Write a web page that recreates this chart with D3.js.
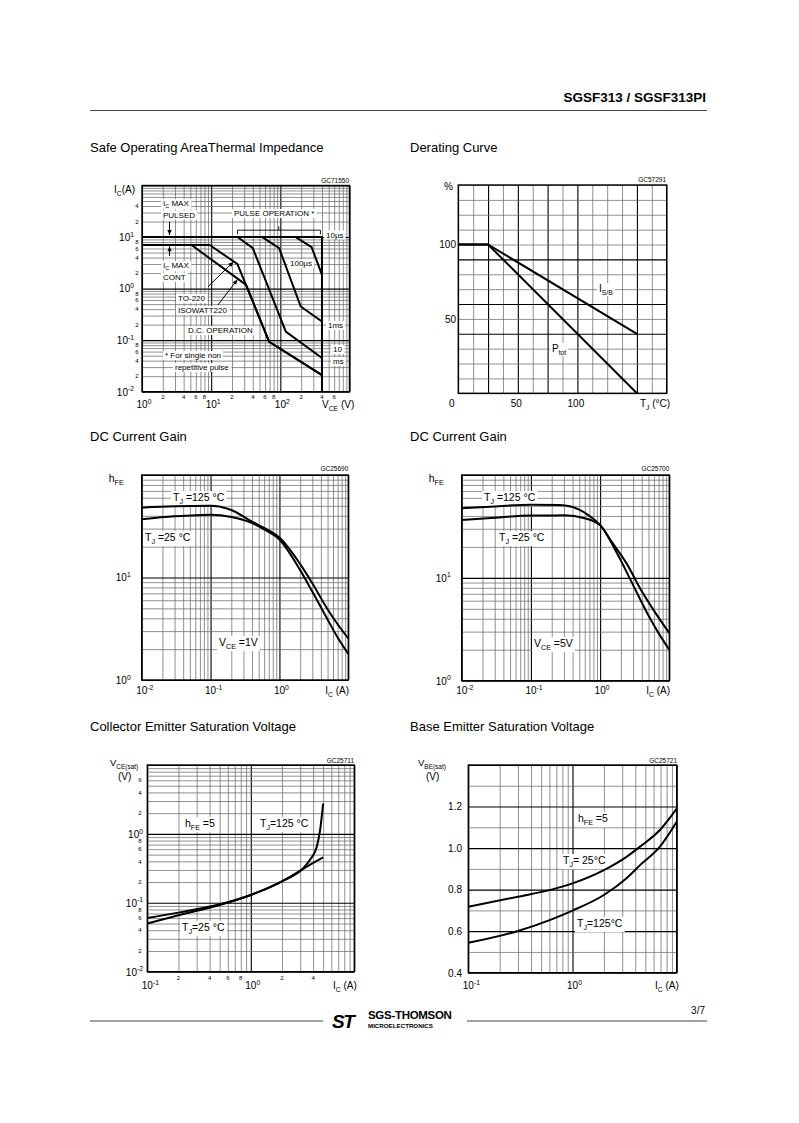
<!DOCTYPE html>
<html>
<head>
<meta charset="utf-8">
<script src="https://d3js.org/d3.v7.min.js"></script>
<style>
  body { margin: 0; background: #fff; }
  svg text { font-family: "Liberation Sans", Arial, sans-serif; fill: #000; }
</style>
</head>
<body>
<svg id="page" width="799" height="1123"></svg>
<script>
// ---------- data ----------
// Safe operating area: [VCE (V), IC (A)]
const soa10us  = [[1, 10], [400, 10], [400, 0.01]];
const soa100us = [[167, 10], [283, 6.4], [400, 1.85]];
const soa1ms   = [[55, 10], [96, 6.1], [197, 0.45], [400, 0.23]];
const soa10ms  = [[24, 10], [40, 6.1], [120, 0.146], [400, 0.045]];
const soaTO220 = [[1, 7], [9.5, 7], [24, 3.0], [69, 0.093], [400, 0.021]];
const soaIso   = [[1, 7], [5.2, 7], [32, 1.18], [69, 0.093], [400, 0.021]];

// Derating curve: Tj (°C) vs %
const derTemp = [0, 25, 150];
const derIsb  = [100, 100, 40];
const derPtot = [100, 100, 0];

// DC current gain, VCE = 1V : [IC (A), hFE]
const gain1v125 = [[0.01, 48], [0.03, 49.5], [0.1, 50], [0.2, 45.5], [0.4, 35], [0.6, 30.5], [1, 24.5], [2, 13.5], [3, 8.8], [5, 4.9], [7, 3.5], [10, 2.55]];
const gain1v25  = [[0.01, 37], [0.03, 39.5], [0.1, 41], [0.2, 39], [0.4, 34], [0.6, 29.5], [1, 23.5], [2, 11.8], [3, 7.3], [5, 3.9], [7, 2.6], [10, 1.8]];

// DC current gain, VCE = 5V
const gain5v125 = [[0.01, 47.5], [0.03, 49.5], [0.1, 51.5], [0.26, 51], [0.5, 46], [0.7, 40], [1, 32.7], [1.5, 22], [2.4, 13.9], [4, 7.4], [6, 4.8], [10, 2.9]];
const gain5v25  = [[0.01, 36.6], [0.03, 38.5], [0.1, 40.3], [0.3, 40.5], [0.6, 38], [1, 32.5], [1.74, 17.5], [3, 8.5], [5, 4.3], [7, 2.9], [10, 2.0]];

// Collector emitter saturation voltage, hFE = 5 : [IC (A), VCE(sat) (V)]
const vce125 = [[0.1, 0.05], [0.2, 0.066], [0.5, 0.093], [1, 0.13], [2, 0.205], [3.2, 0.316], [3.73, 0.42], [4.34, 0.65], [4.67, 1.13], [5.0, 2.76]];
const vce25  = [[0.1, 0.06], [0.2, 0.072], [0.5, 0.095], [1, 0.13], [2, 0.205], [3.2, 0.31], [4, 0.38], [5.0, 0.457]];

// Base emitter saturation voltage, hFE = 5 : [IC (A), VBE(sat) (V)]
const vbe25  = [[0.1, 0.718], [0.3, 0.766], [0.63, 0.8], [1, 0.83], [2, 0.894], [3.3, 0.958], [4.45, 1.007], [6.9, 1.087], [10, 1.19]];
const vbe125 = [[0.1, 0.544], [0.3, 0.601], [0.63, 0.657], [1, 0.699], [2, 0.774], [3.3, 0.855], [4.45, 0.918], [6.9, 1.007], [10, 1.127]];

// tick labels
const soaXDecades = [[1, "10^{0}"], [10, "10^{1}"], [100, "10^{2}"]];
const soaXMinor   = [2, 4, 6, 8, 20, 40, 60, 80, 200, 400, 600];
const soaYDecades = [[0.01, "10^{-2}"], [0.1, "10^{-1}"], [1, "10^{0}"], [10, "10^{1}"]];
const soaYMinor   = [0.02, 0.04, 0.06, 0.08, 0.2, 0.4, 0.6, 0.8, 2, 4, 6, 8, 20, 40];
const derXTicks   = [0, 50, 100];
const derYTicks   = [50, 100];
const gainXDecades = [[0.01, "10^{-2}"], [0.1, "10^{-1}"], [1, "10^{0}"]];
const gainYDecades = [[1, "10^{0}"], [10, "10^{1}"]];
const satXDecades = [[0.1, "10^{-1}"], [1, "10^{0}"]];
const vceXMinor   = [0.2, 0.4, 0.6, 0.8, 2, 4];
const vceYDecades = [[0.01, "10^{-2}"], [0.1, "10^{-1}"], [1, "10^{0}"]];
const vceYMinor   = [0.02, 0.04, 0.06, 0.08, 0.2, 0.4, 0.6, 0.8, 2, 4, 6];
const vbeYTicks   = [0.4, 0.6, 0.8, 1.0, 1.2];

// ---------- helpers ----------
const page = d3.select('#page');

function rich(t, str, size) {
  const re = /([_^])\{([^}]*)\}|([^_^]+)/g;
  let m, cur = 0;
  while ((m = re.exec(str))) {
    if (m[3] !== undefined) {
      t.append('tspan').attr('dy', -cur).text(m[3]);
      cur = 0;
    } else {
      const off = m[1] === '_' ? size * 0.3 : -size * 0.42;
      t.append('tspan').attr('dy', off - cur).attr('font-size', size * 0.68).text(m[2]);
      cur = off;
    }
  }
}

function tag(g, x, y, str, o = {}) {
  const size = o.size || 10;
  const t = g.append('text').attr('x', x).attr('y', y)
    .attr('font-size', size).attr('text-anchor', o.anchor || 'start');
  if (o.weight) t.attr('font-weight', o.weight);
  rich(t, str, size);
  if (o.box) {
    const b = t.node().getBBox();
    g.insert('rect', () => t.node())
      .attr('x', b.x - 2).attr('y', b.y).attr('width', b.width + 4).attr('height', b.height)
      .attr('fill', '#fff');
  }
  return t;
}

function logGrid(lo, hi) {
  const v = [];
  for (let e = Math.floor(Math.log10(lo)) - 1; e <= Math.ceil(Math.log10(hi)); e++)
    for (let k = 1; k < 10; k++) {
      const t = k * Math.pow(10, e);
      if (t >= lo * 0.999 && t <= hi * 1.001) v.push(t);
    }
  return v;
}
const isDecade = v => Math.abs(Math.log10(v) - Math.round(Math.log10(v))) < 1e-6;

function panel(o) {
  const g = page.append('g');
  const x = (o.xLog ? d3.scaleLog() : d3.scaleLinear()).domain(o.xDomain).range([o.left, o.right]);
  const y = (o.yLog ? d3.scaleLog() : d3.scaleLinear()).domain(o.yDomain).range([o.bottom, o.top]);
  const major = o.major || (d => isDecade(d));

  const gx = g.append('g').attr('transform', `translate(0,${o.bottom})`)
    .call(d3.axisBottom(x).tickValues(o.xGrid).tickSize(-(o.bottom - o.top)).tickFormat(''));
  gx.select('.domain').remove();
  gx.selectAll('line').attr('stroke', d => major(d, 'x') ? '#000' : '#6b6b6b')
    .attr('stroke-width', d => major(d, 'x') ? 1.1 : 0.75);

  const gy = g.append('g').attr('transform', `translate(${o.left},0)`)
    .call(d3.axisLeft(y).tickValues(o.yGrid).tickSize(-(o.right - o.left)).tickFormat(''));
  gy.select('.domain').remove();
  gy.selectAll('line').attr('stroke', d => major(d, 'y') ? '#000' : '#6b6b6b')
    .attr('stroke-width', d => major(d, 'y') ? 1.1 : 0.75);

  const labels = g.append('g');
  const curves = g.append('g');
  const frame = g.append('rect').attr('x', o.left).attr('y', o.top)
    .attr('width', o.right - o.left).attr('height', o.bottom - o.top)
    .attr('fill', 'none').attr('stroke', '#000').attr('stroke-width', 1.4);
  return { g, x, y, labels, curves };
}

function drawCurve(p, pts, smooth) {
  const line = d3.line().x(d => p.x(d[0])).y(d => p.y(d[1]))
    .curve(smooth ? d3.curveMonotoneX : d3.curveLinear);
  p.curves.append('path').datum(pts).attr('d', line)
    .attr('fill', 'none').attr('stroke', '#000').attr('stroke-width', 2)
    .attr('stroke-linejoin', 'round');
}

function arrow(p, from, to) {
  const x1 = p.x(from[0]), y1 = p.y(from[1]), x2 = p.x(to[0]), y2 = p.y(to[1]);
  const a = Math.atan2(y2 - y1, x2 - x1), L = 5, W = 2.2;
  p.curves.append('line').attr('x1', x1).attr('y1', y1).attr('x2', x2).attr('y2', y2)
    .attr('stroke', '#000').attr('stroke-width', 1);
  p.curves.append('path')
    .attr('d', `M${x2},${y2}L${x2 - L * Math.cos(a) + W * Math.sin(a)},${y2 - L * Math.sin(a) - W * Math.cos(a)}` +
      `L${x2 - L * Math.cos(a) - W * Math.sin(a)},${y2 - L * Math.sin(a) + W * Math.cos(a)}Z`)
    .attr('fill', '#000');
}

function decadeX(p, list, yb, size) {
  list.forEach(([v, s]) => tag(p.g, p.x(v) - size * 0.55, yb, s, { size }));
}
function decadeY(p, list, xr, size) {
  list.forEach(([v, s]) => tag(p.g, xr, p.y(v) + size * 0.38, s, { size, anchor: 'end' }));
}
function minorX(p, list, yb) {
  list.forEach(v => tag(p.g, p.x(v), yb, String(Math.round(v / Math.pow(10, Math.floor(Math.log10(v) + 1e-9)))), { size: 6, anchor: 'middle' }));
}
function minorY(p, list, xc) {
  list.forEach(v => tag(p.g, xc, p.y(v) + 2.2, String(Math.round(v / Math.pow(10, Math.floor(Math.log10(v) + 1e-9)))), { size: 6, anchor: 'middle' }));
}

// ---------- page header / titles ----------
tag(page, 706, 102, "SGSF313 / SGSF313PI", { size: 13.5, anchor: 'end', weight: 'bold' });
page.append('line').attr('x1', 90).attr('x2', 707).attr('y1', 110.5).attr('y2', 110.5)
  .attr('stroke', '#444').attr('stroke-width', 1);

tag(page, 90, 152, "Safe Operating AreaThermal Impedance", { size: 13 });
tag(page, 410, 152, "Derating Curve", { size: 13 });
tag(page, 90, 441, "DC Current Gain", { size: 13 });
tag(page, 410, 441, "DC Current Gain", { size: 13 });
tag(page, 90, 731, "Collector Emitter Saturation Voltage", { size: 13 });
tag(page, 410, 731, "Base Emitter Saturation Voltage", { size: 13 });

// ---------- 1: safe operating area ----------
{
  const p = panel({ left: 142, right: 349.5, top: 185.5, bottom: 391.7,
    xLog: true, yLog: true, xDomain: [1, 1000], yDomain: [0.01, 100],
    xGrid: logGrid(1, 1000), yGrid: logGrid(0.01, 100) });
  const L = p.labels;
  tag(L, 163, 206, "I_{C} MAX", { size: 8, box: true });
  tag(L, 163, 217.5, "PULSED", { size: 8, box: true });
  tag(L, 234, 216, "PULSE OPERATION *", { size: 8, box: true });
  tag(L, 326, 237.5, "10µs", { size: 8, box: true });
  tag(L, 163, 268, "I_{C} MAX", { size: 8, box: true });
  tag(L, 163, 280, "CONT", { size: 8, box: true });
  tag(L, 290, 266, "100µs", { size: 8, box: true });
  tag(L, 178, 301, "TO-220", { size: 8, box: true });
  tag(L, 178, 313, "ISOWATT220", { size: 8, box: true });
  tag(L, 328, 328, "1ms", { size: 8, box: true });
  tag(L, 188, 333, "D.C. OPERATION", { size: 8, box: true });
  tag(L, 333, 352, "10", { size: 8, box: true });
  tag(L, 333, 364, "ms", { size: 8, box: true });
  tag(L, 165, 358, "* For single non", { size: 8, box: true });
  tag(L, 175, 370, "repetitive pulse", { size: 8, box: true });

  [soa10us, soa100us, soa1ms, soa10ms, soaTO220, soaIso].forEach(c => drawCurve(p, c, false));
  // bracket over the pulse curves
  const br = [[24, 11.3], [24, 13.6], [380, 13.6], [380, 11.3]];
  p.curves.append('path').datum(br)
    .attr('d', d3.line().x(d => p.x(d[0])).y(d => p.y(d[1])))
    .attr('fill', 'none').attr('stroke', '#000').attr('stroke-width', 0.9);
  p.curves.append('line').attr('x1', p.x(95)).attr('x2', p.x(95))
    .attr('y1', p.y(13.6)).attr('y2', p.y(16)).attr('stroke', '#000').attr('stroke-width', 0.9);
  arrow(p, [2.5, 19.7], [2.5, 11]);
  arrow(p, [2.5, 4.3], [2.5, 6.6]);
  arrow(p, [9.0, 1.09], [21, 3.3]);
  arrow(p, [12.5, 0.48], [24, 1.5]);

  tag(page, 114, 193, "I_{C}(A)", { size: 10 });
  tag(page, 349, 182.5, "GC71550", { size: 6.5, anchor: 'end' });
  decadeX(p, soaXDecades, 408, 10);
  minorX(p, soaXMinor, 399);
  decadeY(p, soaYDecades, 134, 10);
  minorY(p, soaYMinor, 137);
  tag(page, 322, 408, "V_{CE} (V)", { size: 10 });
}

// ---------- 2: derating curve ----------
{
  const grid12 = d3.range(0, 175.1, 12.5);
  const grid10 = d3.range(0, 140.1, 10);
  const p = panel({ left: 458.3, right: 666.7, top: 185, bottom: 393.3,
    xDomain: [0, 175], yDomain: [0, 140], xGrid: grid12, yGrid: grid10,
    major: (d, ax) => ax === 'x' ? [25, 50, 75, 100, 150].includes(d) : [40, 60, 90].includes(d) });
  const L = p.labels;
  tag(L, 599, 292, "I_{S/B}", { size: 10, box: true });
  tag(L, 552, 352, "P_{tot}", { size: 10, box: true });
  drawCurve(p, derTemp.map((t, i) => [t, derIsb[i]]), false);
  drawCurve(p, derTemp.map((t, i) => [t, derPtot[i]]), false);

  tag(page, 444, 190, "%", { size: 10 });
  tag(page, 666, 181.5, "GC57291", { size: 6.5, anchor: 'end' });
  derXTicks.forEach(v => tag(page, v === 0 ? p.x(v) - 6.5 : p.x(v) - 1.5, 407, String(v), { size: 10, anchor: 'middle' }));
  derYTicks.forEach(v => tag(page, 456, p.y(v) + 3.8, String(v), { size: 10, anchor: 'end' }));
  tag(page, 640, 407, "T_{J}  (°C)", { size: 10 });
}

// ---------- 3 & 4: DC current gain ----------
function gainPanel(left, right, bottom, c125, c25, code, vceText, pos) {
  const p = panel({ left, right, top: 475, bottom,
    xLog: true, yLog: true, xDomain: [0.01, 10], yDomain: [1, 100],
    xGrid: logGrid(0.01, 10), yGrid: logGrid(1, 100) });
  const L = p.labels;
  tag(L, pos.t125[0], pos.t125[1], "T_{J} =125 °C", { size: 10.5, box: true });
  tag(L, pos.t25[0], pos.t25[1], "T_{J} =25 °C", { size: 10.5, box: true });
  tag(L, pos.vce[0], pos.vce[1], vceText, { size: 10.5, box: true });
  drawCurve(p, c125, true);
  drawCurve(p, c25, true);
  tag(page, left - 33, 482, "h_{FE}", { size: 10.5 });
  tag(page, right, 471, code, { size: 6.5, anchor: 'end' });
  decadeX(p, gainXDecades, 694, 10);
  decadeY(p, gainYDecades, left - 11, 10);
  tag(page, right - 23, 694, "I_{C} (A)", { size: 10 });
}
gainPanel(141.7, 348.3, 680, gain1v125, gain1v25, "GC25690", "V_{CE} =1V",
  { t125: [173, 501], t25: [145, 541], vce: [219, 646] });
gainPanel(461.7, 669.3, 680.7, gain5v125, gain5v25, "GC25700", "V_{CE} =5V",
  { t125: [484, 501], t25: [499, 541], vce: [534, 647] });

// ---------- 5: collector emitter saturation voltage ----------
{
  const p = panel({ left: 147.3, right: 354.3, top: 765, bottom: 971.7,
    xLog: true, yLog: true, xDomain: [0.1, 10], yDomain: [0.01, 10],
    xGrid: logGrid(0.1, 10), yGrid: logGrid(0.01, 10) });
  const L = p.labels;
  tag(L, 185, 827, "h_{FE} =5", { size: 10.5, box: true });
  tag(L, 260, 827, "T_{J}=125 °C", { size: 10.5, box: true });
  tag(L, 182, 931, "T_{J}=25 °C", { size: 10.5, box: true });
  drawCurve(p, vce125, true);
  drawCurve(p, vce25, true);
  tag(page, 110, 766, "V_{CE(sat)}", { size: 9.5 });
  tag(page, 118, 780, "(V)", { size: 10 });
  tag(page, 354, 763, "GC25711", { size: 6.5, anchor: 'end' });
  decadeX(p, satXDecades, 989, 10);
  minorX(p, vceXMinor, 980);
  decadeY(p, vceYDecades, 143, 10);
  minorY(p, vceYMinor, 140);
  tag(page, 333, 989, "I_{C} (A)", { size: 10 });
}

// ---------- 6: base emitter saturation voltage ----------
{
  const p = panel({ left: 468.3, right: 676.7, top: 765, bottom: 972.7,
    xLog: true, xDomain: [0.1, 10], yDomain: [0.4, 1.4],
    xGrid: logGrid(0.1, 10), yGrid: d3.range(4, 14.1, 1).map(v => v / 10),
    major: (d, ax) => ax === 'x' ? isDecade(d) : Math.round(d * 10) % 2 === 0 });
  const L = p.labels;
  tag(L, 578, 822, "h_{FE} =5", { size: 10.5, box: true });
  tag(L, 563, 864, "T_{J}= 25°C", { size: 10.5, box: true });
  tag(L, 577, 927, "T_{J}=125°C", { size: 10.5, box: true });
  drawCurve(p, vbe25, true);
  drawCurve(p, vbe125, true);
  tag(page, 418, 766, "V_{BE(sat)}", { size: 9.5 });
  tag(page, 426, 780, "(V)", { size: 10 });
  tag(page, 677, 763, "GC25721", { size: 6.5, anchor: 'end' });
  decadeX(p, satXDecades, 989, 10);
  vbeYTicks.forEach(v => tag(page, 462, p.y(v) + 3.8, v.toFixed(1), { size: 10, anchor: 'end' }));
  tag(page, 655, 989, "I_{C} (A)", { size: 10 });
}

// ---------- footer ----------
page.append('line').attr('x1', 90).attr('x2', 323).attr('y1', 1021).attr('y2', 1021).attr('stroke', '#444');
page.append('line').attr('x1', 467).attr('x2', 707).attr('y1', 1021).attr('y2', 1021).attr('stroke', '#444');
tag(page, 332, 1028, "ST", { size: 19, weight: 900 }).attr('font-style', 'italic').attr('letter-spacing', -1.5);
tag(page, 368, 1019, "SGS-THOMSON", { size: 11.5, weight: 'bold' }).attr('letter-spacing', -0.3);
tag(page, 368, 1028, "MICROELECTRONICS", { size: 6.2, weight: 'bold' });
tag(page, 705, 1014, "3/7", { size: 10, anchor: 'end' });
</script>
</body>
</html>
